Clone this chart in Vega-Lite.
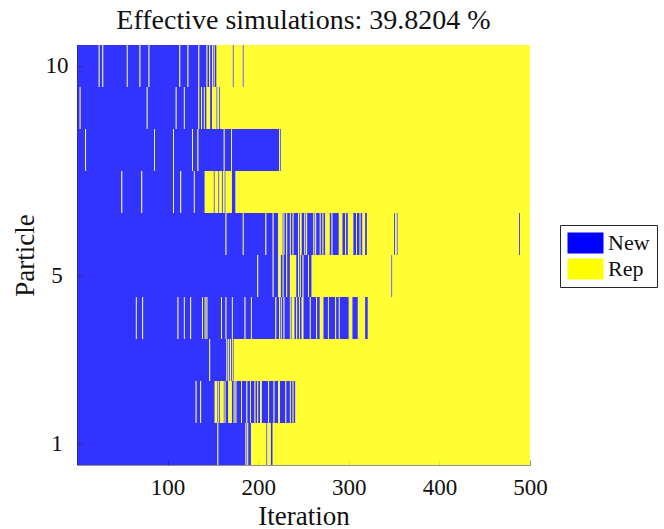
{
  "$schema": "https://vega.github.io/schema/vega-lite/v6.json",
  "autosize": {"type": "none"},
  "padding": {"left": 77, "top": 45, "right": 134, "bottom": 64},
  "width": 453,
  "height": 420,
  "background": "white",
  "view": {"stroke": null},
  "config": {"font": "Liberation Serif", "title": {"font": "Liberation Serif"}},
  "title": {
    "text": "Effective simulations: 39.8204 %",
    "font": "Liberation Serif",
    "fontSize": 28,
    "fontWeight": "normal",
    "color": "#111111",
    "anchor": "middle",
    "baseline": "alphabetic",
    "offset": 14,
    "dy": 26
  },
  "data": {
    "values": [
      {"p": 10, "a": 0, "b": 24, "t": "New"}, {"p": 10, "a": 24, "b": 25, "t": "Rep"},
      {"p": 10, "a": 25, "b": 28, "t": "New"}, {"p": 10, "a": 28, "b": 29, "t": "Rep"},
      {"p": 10, "a": 29, "b": 55, "t": "New"}, {"p": 10, "a": 55, "b": 56, "t": "Rep"},
      {"p": 10, "a": 56, "b": 69, "t": "New"}, {"p": 10, "a": 69, "b": 70, "t": "Rep"},
      {"p": 10, "a": 70, "b": 79, "t": "New"}, {"p": 10, "a": 79, "b": 80, "t": "Rep"},
      {"p": 10, "a": 80, "b": 113, "t": "New"}, {"p": 10, "a": 113, "b": 114, "t": "Rep"},
      {"p": 10, "a": 114, "b": 122, "t": "New"}, {"p": 10, "a": 122, "b": 123, "t": "Rep"},
      {"p": 10, "a": 123, "b": 134, "t": "New"}, {"p": 10, "a": 134, "b": 135, "t": "Rep"},
      {"p": 10, "a": 135, "b": 143, "t": "New"}, {"p": 10, "a": 143, "b": 144, "t": "Rep"},
      {"p": 10, "a": 144, "b": 146, "t": "New"}, {"p": 10, "a": 146, "b": 147, "t": "Rep"},
      {"p": 10, "a": 147, "b": 149, "t": "New"}, {"p": 10, "a": 149, "b": 150, "t": "Rep"},
      {"p": 10, "a": 150, "b": 151, "t": "New"}, {"p": 10, "a": 151, "b": 152, "t": "Rep"},
      {"p": 10, "a": 152, "b": 154, "t": "New"}, {"p": 10, "a": 154, "b": 172, "t": "Rep"},
      {"p": 10, "a": 172, "b": 173, "t": "New"}, {"p": 10, "a": 173, "b": 183, "t": "Rep"},
      {"p": 10, "a": 183, "b": 184, "t": "New"}, {"p": 10, "a": 184, "b": 500, "t": "Rep"},

      {"p": 9, "a": 0, "b": 3, "t": "New"}, {"p": 9, "a": 3, "b": 4, "t": "Rep"},
      {"p": 9, "a": 4, "b": 77, "t": "New"}, {"p": 9, "a": 77, "b": 78, "t": "Rep"},
      {"p": 9, "a": 78, "b": 109, "t": "New"}, {"p": 9, "a": 109, "b": 110, "t": "Rep"},
      {"p": 9, "a": 110, "b": 118, "t": "New"}, {"p": 9, "a": 118, "b": 119, "t": "Rep"},
      {"p": 9, "a": 119, "b": 134, "t": "New"}, {"p": 9, "a": 134, "b": 135, "t": "Rep"},
      {"p": 9, "a": 135, "b": 137, "t": "New"}, {"p": 9, "a": 137, "b": 138, "t": "Rep"},
      {"p": 9, "a": 138, "b": 140, "t": "New"}, {"p": 9, "a": 140, "b": 141, "t": "Rep"},
      {"p": 9, "a": 141, "b": 143, "t": "New"}, {"p": 9, "a": 143, "b": 147, "t": "Rep"},
      {"p": 9, "a": 147, "b": 149, "t": "New"}, {"p": 9, "a": 149, "b": 154, "t": "Rep"},
      {"p": 9, "a": 154, "b": 155, "t": "New"}, {"p": 9, "a": 155, "b": 157, "t": "Rep"},
      {"p": 9, "a": 157, "b": 158, "t": "New"}, {"p": 9, "a": 158, "b": 500, "t": "Rep"},

      {"p": 8, "a": 0, "b": 9, "t": "New"}, {"p": 8, "a": 9, "b": 10, "t": "Rep"},
      {"p": 8, "a": 10, "b": 85, "t": "New"}, {"p": 8, "a": 85, "b": 86, "t": "Rep"},
      {"p": 8, "a": 86, "b": 106, "t": "New"}, {"p": 8, "a": 106, "b": 107, "t": "Rep"},
      {"p": 8, "a": 107, "b": 127, "t": "New"}, {"p": 8, "a": 127, "b": 128, "t": "Rep"},
      {"p": 8, "a": 128, "b": 133, "t": "New"}, {"p": 8, "a": 133, "b": 134, "t": "Rep"},
      {"p": 8, "a": 134, "b": 162, "t": "New"}, {"p": 8, "a": 162, "b": 163, "t": "Rep"},
      {"p": 8, "a": 163, "b": 170, "t": "New"}, {"p": 8, "a": 170, "b": 171, "t": "Rep"},
      {"p": 8, "a": 171, "b": 223, "t": "New"}, {"p": 8, "a": 223, "b": 224, "t": "Rep"},
      {"p": 8, "a": 224, "b": 225, "t": "New"}, {"p": 8, "a": 225, "b": 500, "t": "Rep"},

      {"p": 7, "a": 0, "b": 49, "t": "New"}, {"p": 7, "a": 49, "b": 50, "t": "Rep"},
      {"p": 7, "a": 50, "b": 71, "t": "New"}, {"p": 7, "a": 71, "b": 72, "t": "Rep"},
      {"p": 7, "a": 72, "b": 106, "t": "New"}, {"p": 7, "a": 106, "b": 107, "t": "Rep"},
      {"p": 7, "a": 107, "b": 114, "t": "New"}, {"p": 7, "a": 114, "b": 115, "t": "Rep"},
      {"p": 7, "a": 115, "b": 129, "t": "New"}, {"p": 7, "a": 129, "b": 130, "t": "Rep"},
      {"p": 7, "a": 130, "b": 141, "t": "New"}, {"p": 7, "a": 141, "b": 151, "t": "Rep"},
      {"p": 7, "a": 151, "b": 152, "t": "New"}, {"p": 7, "a": 152, "b": 156, "t": "Rep"},
      {"p": 7, "a": 156, "b": 157, "t": "New"}, {"p": 7, "a": 157, "b": 160, "t": "Rep"},
      {"p": 7, "a": 160, "b": 161, "t": "New"}, {"p": 7, "a": 161, "b": 163, "t": "Rep"},
      {"p": 7, "a": 163, "b": 164, "t": "New"}, {"p": 7, "a": 164, "b": 171, "t": "Rep"},
      {"p": 7, "a": 171, "b": 175, "t": "New"}, {"p": 7, "a": 175, "b": 500, "t": "Rep"},

      {"p": 6, "a": 0, "b": 164, "t": "New"}, {"p": 6, "a": 164, "b": 165, "t": "Rep"},
      {"p": 6, "a": 165, "b": 183, "t": "New"}, {"p": 6, "a": 183, "b": 184, "t": "Rep"},
      {"p": 6, "a": 184, "b": 208, "t": "New"}, {"p": 6, "a": 208, "b": 209, "t": "Rep"},
      {"p": 6, "a": 209, "b": 216, "t": "New"}, {"p": 6, "a": 216, "b": 217, "t": "Rep"},
      {"p": 6, "a": 217, "b": 222, "t": "New"}, {"p": 6, "a": 222, "b": 227, "t": "Rep"},
      {"p": 6, "a": 227, "b": 228, "t": "New"}, {"p": 6, "a": 228, "b": 229, "t": "Rep"},
      {"p": 6, "a": 229, "b": 231, "t": "New"}, {"p": 6, "a": 231, "b": 232, "t": "Rep"},
      {"p": 6, "a": 232, "b": 235, "t": "New"}, {"p": 6, "a": 235, "b": 236, "t": "Rep"},
      {"p": 6, "a": 236, "b": 238, "t": "New"}, {"p": 6, "a": 238, "b": 239, "t": "Rep"},
      {"p": 6, "a": 239, "b": 244, "t": "New"}, {"p": 6, "a": 244, "b": 245, "t": "Rep"},
      {"p": 6, "a": 245, "b": 246, "t": "New"}, {"p": 6, "a": 246, "b": 248, "t": "Rep"},
      {"p": 6, "a": 248, "b": 251, "t": "New"}, {"p": 6, "a": 251, "b": 252, "t": "Rep"},
      {"p": 6, "a": 252, "b": 253, "t": "New"}, {"p": 6, "a": 253, "b": 254, "t": "Rep"},
      {"p": 6, "a": 254, "b": 261, "t": "New"}, {"p": 6, "a": 261, "b": 262, "t": "Rep"},
      {"p": 6, "a": 262, "b": 263, "t": "New"}, {"p": 6, "a": 263, "b": 264, "t": "Rep"},
      {"p": 6, "a": 264, "b": 268, "t": "New"}, {"p": 6, "a": 268, "b": 269, "t": "Rep"},
      {"p": 6, "a": 269, "b": 271, "t": "New"}, {"p": 6, "a": 271, "b": 272, "t": "Rep"},
      {"p": 6, "a": 272, "b": 274, "t": "New"}, {"p": 6, "a": 274, "b": 279, "t": "Rep"},
      {"p": 6, "a": 279, "b": 281, "t": "New"}, {"p": 6, "a": 281, "b": 282, "t": "Rep"},
      {"p": 6, "a": 282, "b": 289, "t": "New"}, {"p": 6, "a": 289, "b": 293, "t": "Rep"},
      {"p": 6, "a": 293, "b": 296, "t": "New"}, {"p": 6, "a": 296, "b": 297, "t": "Rep"},
      {"p": 6, "a": 297, "b": 299, "t": "New"}, {"p": 6, "a": 299, "b": 305, "t": "Rep"},
      {"p": 6, "a": 305, "b": 308, "t": "New"}, {"p": 6, "a": 308, "b": 309, "t": "Rep"},
      {"p": 6, "a": 309, "b": 312, "t": "New"}, {"p": 6, "a": 312, "b": 313, "t": "Rep"},
      {"p": 6, "a": 313, "b": 315, "t": "New"}, {"p": 6, "a": 315, "b": 318, "t": "Rep"},
      {"p": 6, "a": 318, "b": 320, "t": "New"}, {"p": 6, "a": 320, "b": 350, "t": "Rep"},
      {"p": 6, "a": 350, "b": 351, "t": "New"}, {"p": 6, "a": 351, "b": 353, "t": "Rep"},
      {"p": 6, "a": 353, "b": 354, "t": "New"}, {"p": 6, "a": 354, "b": 488, "t": "Rep"},
      {"p": 6, "a": 488, "b": 489, "t": "New"}, {"p": 6, "a": 489, "b": 500, "t": "Rep"},

      {"p": 5, "a": 0, "b": 199, "t": "New"}, {"p": 5, "a": 199, "b": 200, "t": "Rep"},
      {"p": 5, "a": 200, "b": 216, "t": "New"}, {"p": 5, "a": 216, "b": 217, "t": "Rep"},
      {"p": 5, "a": 217, "b": 222, "t": "New"}, {"p": 5, "a": 222, "b": 225, "t": "Rep"},
      {"p": 5, "a": 225, "b": 227, "t": "New"}, {"p": 5, "a": 227, "b": 228, "t": "Rep"},
      {"p": 5, "a": 228, "b": 231, "t": "New"}, {"p": 5, "a": 231, "b": 232, "t": "Rep"},
      {"p": 5, "a": 232, "b": 235, "t": "New"}, {"p": 5, "a": 235, "b": 242, "t": "Rep"},
      {"p": 5, "a": 242, "b": 244, "t": "New"}, {"p": 5, "a": 244, "b": 245, "t": "Rep"},
      {"p": 5, "a": 245, "b": 246, "t": "New"}, {"p": 5, "a": 246, "b": 247, "t": "Rep"},
      {"p": 5, "a": 247, "b": 249, "t": "New"}, {"p": 5, "a": 249, "b": 250, "t": "Rep"},
      {"p": 5, "a": 250, "b": 255, "t": "New"}, {"p": 5, "a": 255, "b": 256, "t": "Rep"},
      {"p": 5, "a": 256, "b": 259, "t": "New"}, {"p": 5, "a": 259, "b": 347, "t": "Rep"},
      {"p": 5, "a": 347, "b": 348, "t": "New"}, {"p": 5, "a": 348, "b": 500, "t": "Rep"},

      {"p": 4, "a": 0, "b": 65, "t": "New"}, {"p": 4, "a": 65, "b": 66, "t": "Rep"},
      {"p": 4, "a": 66, "b": 72, "t": "New"}, {"p": 4, "a": 72, "b": 73, "t": "Rep"},
      {"p": 4, "a": 73, "b": 111, "t": "New"}, {"p": 4, "a": 111, "b": 112, "t": "Rep"},
      {"p": 4, "a": 112, "b": 118, "t": "New"}, {"p": 4, "a": 118, "b": 119, "t": "Rep"},
      {"p": 4, "a": 119, "b": 125, "t": "New"}, {"p": 4, "a": 125, "b": 126, "t": "Rep"},
      {"p": 4, "a": 126, "b": 138, "t": "New"}, {"p": 4, "a": 138, "b": 139, "t": "Rep"},
      {"p": 4, "a": 139, "b": 141, "t": "New"}, {"p": 4, "a": 141, "b": 142, "t": "Rep"},
      {"p": 4, "a": 142, "b": 143, "t": "New"}, {"p": 4, "a": 143, "b": 144, "t": "Rep"},
      {"p": 4, "a": 144, "b": 159, "t": "New"}, {"p": 4, "a": 159, "b": 160, "t": "Rep"},
      {"p": 4, "a": 160, "b": 164, "t": "New"}, {"p": 4, "a": 164, "b": 165, "t": "Rep"},
      {"p": 4, "a": 165, "b": 171, "t": "New"}, {"p": 4, "a": 171, "b": 172, "t": "Rep"},
      {"p": 4, "a": 172, "b": 185, "t": "New"}, {"p": 4, "a": 185, "b": 186, "t": "Rep"},
      {"p": 4, "a": 186, "b": 192, "t": "New"}, {"p": 4, "a": 192, "b": 193, "t": "Rep"},
      {"p": 4, "a": 193, "b": 219, "t": "New"}, {"p": 4, "a": 219, "b": 220, "t": "Rep"},
      {"p": 4, "a": 220, "b": 223, "t": "New"}, {"p": 4, "a": 223, "b": 224, "t": "Rep"},
      {"p": 4, "a": 224, "b": 225, "t": "New"}, {"p": 4, "a": 225, "b": 226, "t": "Rep"},
      {"p": 4, "a": 226, "b": 228, "t": "New"}, {"p": 4, "a": 228, "b": 229, "t": "Rep"},
      {"p": 4, "a": 229, "b": 235, "t": "New"}, {"p": 4, "a": 235, "b": 236, "t": "Rep"},
      {"p": 4, "a": 236, "b": 237, "t": "New"}, {"p": 4, "a": 237, "b": 240, "t": "Rep"},
      {"p": 4, "a": 240, "b": 242, "t": "New"}, {"p": 4, "a": 242, "b": 243, "t": "Rep"},
      {"p": 4, "a": 243, "b": 245, "t": "New"}, {"p": 4, "a": 245, "b": 246, "t": "Rep"},
      {"p": 4, "a": 246, "b": 248, "t": "New"}, {"p": 4, "a": 248, "b": 250, "t": "Rep"},
      {"p": 4, "a": 250, "b": 257, "t": "New"}, {"p": 4, "a": 257, "b": 258, "t": "Rep"},
      {"p": 4, "a": 258, "b": 264, "t": "New"}, {"p": 4, "a": 264, "b": 265, "t": "Rep"},
      {"p": 4, "a": 265, "b": 268, "t": "New"}, {"p": 4, "a": 268, "b": 272, "t": "Rep"},
      {"p": 4, "a": 272, "b": 277, "t": "New"}, {"p": 4, "a": 277, "b": 278, "t": "Rep"},
      {"p": 4, "a": 278, "b": 285, "t": "New"}, {"p": 4, "a": 285, "b": 286, "t": "Rep"},
      {"p": 4, "a": 286, "b": 289, "t": "New"}, {"p": 4, "a": 289, "b": 290, "t": "Rep"},
      {"p": 4, "a": 290, "b": 300, "t": "New"}, {"p": 4, "a": 300, "b": 304, "t": "Rep"},
      {"p": 4, "a": 304, "b": 310, "t": "New"}, {"p": 4, "a": 310, "b": 318, "t": "Rep"},
      {"p": 4, "a": 318, "b": 321, "t": "New"}, {"p": 4, "a": 321, "b": 500, "t": "Rep"},

      {"p": 3, "a": 0, "b": 146, "t": "New"}, {"p": 3, "a": 146, "b": 147, "t": "Rep"},
      {"p": 3, "a": 147, "b": 165, "t": "New"}, {"p": 3, "a": 165, "b": 166, "t": "Rep"},
      {"p": 3, "a": 166, "b": 167, "t": "New"}, {"p": 3, "a": 167, "b": 168, "t": "Rep"},
      {"p": 3, "a": 168, "b": 169, "t": "New"}, {"p": 3, "a": 169, "b": 170, "t": "Rep"},
      {"p": 3, "a": 170, "b": 171, "t": "New"}, {"p": 3, "a": 171, "b": 172, "t": "Rep"},
      {"p": 3, "a": 172, "b": 173, "t": "New"}, {"p": 3, "a": 173, "b": 500, "t": "Rep"},

      {"p": 2, "a": 0, "b": 131, "t": "New"}, {"p": 2, "a": 131, "b": 132, "t": "Rep"},
      {"p": 2, "a": 132, "b": 136, "t": "New"}, {"p": 2, "a": 136, "b": 137, "t": "Rep"},
      {"p": 2, "a": 137, "b": 152, "t": "New"}, {"p": 2, "a": 152, "b": 155, "t": "Rep"},
      {"p": 2, "a": 155, "b": 156, "t": "New"}, {"p": 2, "a": 156, "b": 157, "t": "Rep"},
      {"p": 2, "a": 157, "b": 158, "t": "New"}, {"p": 2, "a": 158, "b": 162, "t": "Rep"},
      {"p": 2, "a": 162, "b": 163, "t": "New"}, {"p": 2, "a": 163, "b": 164, "t": "Rep"},
      {"p": 2, "a": 164, "b": 167, "t": "New"}, {"p": 2, "a": 167, "b": 171, "t": "Rep"},
      {"p": 2, "a": 171, "b": 173, "t": "New"}, {"p": 2, "a": 173, "b": 174, "t": "Rep"},
      {"p": 2, "a": 174, "b": 175, "t": "New"}, {"p": 2, "a": 175, "b": 176, "t": "Rep"},
      {"p": 2, "a": 176, "b": 181, "t": "New"}, {"p": 2, "a": 181, "b": 182, "t": "Rep"},
      {"p": 2, "a": 182, "b": 187, "t": "New"}, {"p": 2, "a": 187, "b": 188, "t": "Rep"},
      {"p": 2, "a": 188, "b": 191, "t": "New"}, {"p": 2, "a": 191, "b": 192, "t": "Rep"},
      {"p": 2, "a": 192, "b": 196, "t": "New"}, {"p": 2, "a": 196, "b": 197, "t": "Rep"},
      {"p": 2, "a": 197, "b": 199, "t": "New"}, {"p": 2, "a": 199, "b": 200, "t": "Rep"},
      {"p": 2, "a": 200, "b": 202, "t": "New"}, {"p": 2, "a": 202, "b": 204, "t": "Rep"},
      {"p": 2, "a": 204, "b": 211, "t": "New"}, {"p": 2, "a": 211, "b": 212, "t": "Rep"},
      {"p": 2, "a": 212, "b": 217, "t": "New"}, {"p": 2, "a": 217, "b": 218, "t": "Rep"},
      {"p": 2, "a": 218, "b": 222, "t": "New"}, {"p": 2, "a": 222, "b": 224, "t": "Rep"},
      {"p": 2, "a": 224, "b": 230, "t": "New"}, {"p": 2, "a": 230, "b": 231, "t": "Rep"},
      {"p": 2, "a": 231, "b": 235, "t": "New"}, {"p": 2, "a": 235, "b": 236, "t": "Rep"},
      {"p": 2, "a": 236, "b": 238, "t": "New"}, {"p": 2, "a": 238, "b": 239, "t": "Rep"},
      {"p": 2, "a": 239, "b": 241, "t": "New"}, {"p": 2, "a": 241, "b": 500, "t": "Rep"},

      {"p": 1, "a": 0, "b": 155, "t": "New"}, {"p": 1, "a": 155, "b": 156, "t": "Rep"},
      {"p": 1, "a": 156, "b": 186, "t": "New"}, {"p": 1, "a": 186, "b": 187, "t": "Rep"},
      {"p": 1, "a": 187, "b": 188, "t": "New"}, {"p": 1, "a": 188, "b": 189, "t": "Rep"},
      {"p": 1, "a": 189, "b": 192, "t": "New"}, {"p": 1, "a": 192, "b": 209, "t": "Rep"},
      {"p": 1, "a": 209, "b": 210, "t": "New"}, {"p": 1, "a": 210, "b": 214, "t": "Rep"},
      {"p": 1, "a": 214, "b": 216, "t": "New"}, {"p": 1, "a": 216, "b": 500, "t": "Rep"}
    ]
  },
  "mark": {"type": "rect", "opacity": 0.8},
  "encoding": {
    "x": {
      "field": "a",
      "type": "quantitative",
      "scale": {"domain": [0, 500], "nice": false, "zero": false},
      "axis": {
        "title": "Iteration",
        "values": [100, 200, 300, 400, 500],
        "grid": false,
        "tickSize": -5,
        "tickColor": "#262626",
        "tickOpacity": 0.5,
        "domainColor": "#262626",
        "domainOpacity": 0.5,
        "labelFont": "Liberation Serif",
        "labelFontSize": 23,
        "labelColor": "#111111",
        "labelBaseline": "alphabetic",
        "labelPadding": 34,
        "labelFlush": false,
        "labelOverlap": false,
        "titleFont": "Liberation Serif",
        "titleFontSize": 27,
        "titleFontWeight": "normal",
        "titleColor": "#111111",
        "titleBaseline": "alphabetic",
        "titleY": 59
      }
    },
    "x2": {"field": "b"},
    "y": {
      "field": "p",
      "type": "ordinal",
      "sort": "descending",
      "scale": {"paddingInner": 0, "paddingOuter": 0},
      "axis": {
        "title": "Particle",
        "values": [10, 5, 1],
        "tickSize": -5,
        "tickColor": "#262626",
        "tickOpacity": 0.5,
        "domainColor": "#262626",
        "domainOpacity": 0.5,
        "labelFont": "Liberation Serif",
        "labelFontSize": 23,
        "labelColor": "#111111",
        "labelAlign": "center",
        "labelBaseline": "middle",
        "labelPadding": 25.5,
        "titleFont": "Liberation Serif",
        "titleFontSize": 27,
        "titleFontWeight": "normal",
        "titleColor": "#111111",
        "titleAngle": 270,
        "titleBaseline": "alphabetic",
        "titleX": -44,
        "titleY": 210
      }
    },
    "color": {
      "field": "t",
      "type": "nominal",
      "scale": {"domain": ["New", "Rep"], "range": ["#0000ff", "#ffff00"]},
      "legend": {
        "title": null,
        "orient": "none",
        "legendX": 483,
        "legendY": 180,
        "symbolType": "M-1,-1H2.428V1H-1Z",
        "symbolSize": 441,
        "symbolStrokeWidth": 0,
        "symbolOpacity": 1,
        "labelFont": "Liberation Serif",
        "labelFontSize": 22,
        "labelColor": "#111111",
        "labelOffset": 19,
        "rowPadding": 4,
        "padding": 7,
        "strokeColor": "#262626",
        "fillColor": "white"
      }
    }
  }
}
